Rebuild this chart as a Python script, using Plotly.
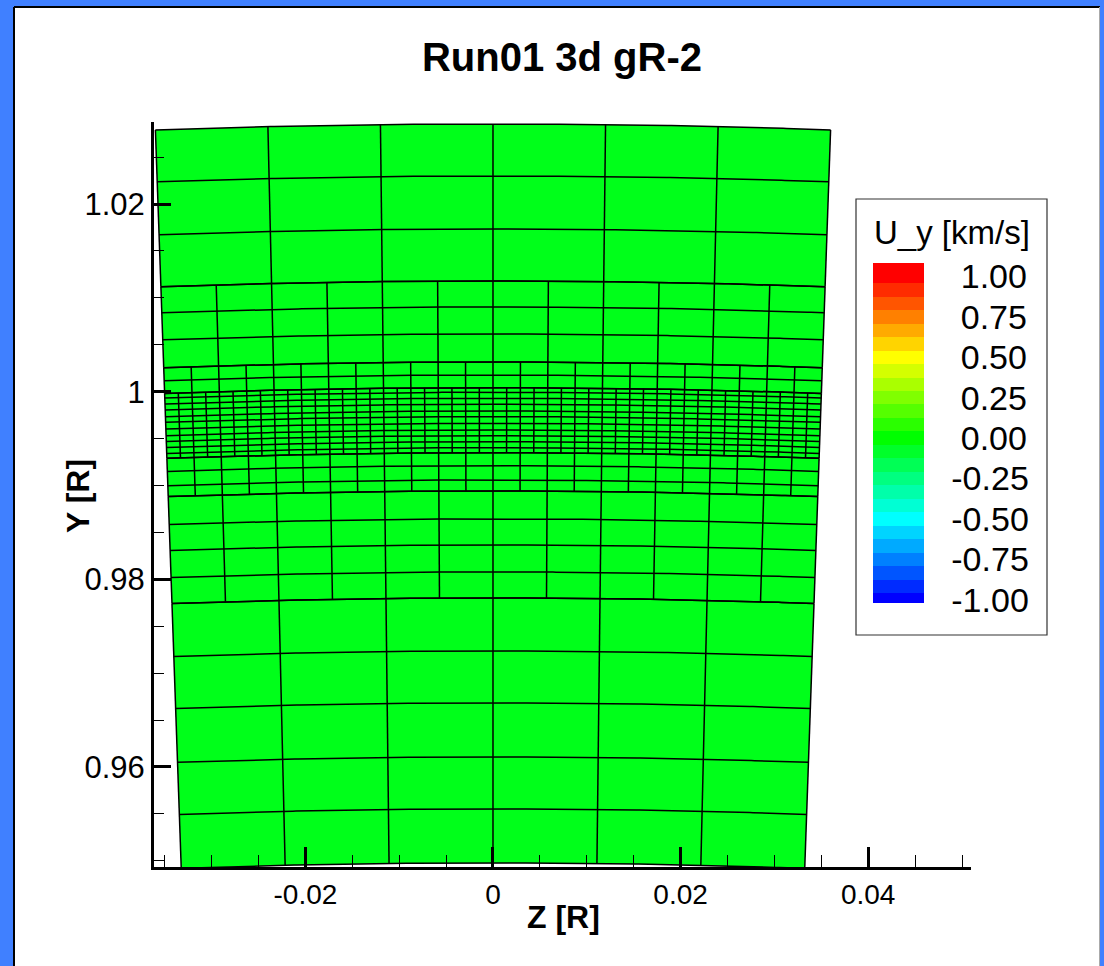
import numpy as np
import plotly.graph_objects as go

# ---------------- text / ticks ----------------
TITLE = "Run01 3d gR-2"
X_TITLE = "Z [R]"
Y_TITLE = "Y [R]"
CB_TITLE = "U_y [km/s]"

x_tickvals = [-0.02, 0.0, 0.02, 0.04]
x_ticktext = ["-0.02", "0", "0.02", "0.04"]
y_tickvals = [0.96, 0.98, 1.0, 1.02]
y_ticktext = ["0.96", "0.98", "1", "1.02"]
x_range = [-0.03614, 0.05096]
y_range = [0.94934, 1.02874]

cb_tickvals = [1.0, 0.75, 0.5, 0.25, 0.0, -0.25, -0.5, -0.75, -1.0]
cb_min, cb_max = -1.02, 13 / 12

# ---------------- mesh (spherical wedge, AMR grid) ----------------
theta_half = 0.035          # half opening angle (rad)
base_cols = 6               # angular cells at coarsest level
# radial grid lines per refinement zone, outer -> inner
zone_L0_outer = [1.02853, 1.02299, 1.01734, 1.01180]
zone_L1_outer = [1.01180, 1.00903, 1.00615, 1.00317]
zone_L2_outer = [1.00317, 1.00178, 1.00043]
zone_L3 = [1.00043, 0.99994, 0.99930, 0.99866, 0.99794, 0.99734,
           0.99663, 0.99592, 0.99531, 0.99467, 0.99403, 0.99350]
zone_L2_inner = [0.99350, 0.99211, 0.99059, 0.98942]
zone_L1_inner = [0.98942, 0.98644, 0.98367, 0.98079, 0.97802]
zone_L0_inner = [0.97802, 0.97237, 0.96683, 0.96108, 0.95553, 0.94978]
zone_levels = [0, 1, 2, 3, 2, 1, 0]
zones = [zone_L0_outer, zone_L1_outer, zone_L2_outer, zone_L3,
         zone_L2_inner, zone_L1_inner, zone_L0_inner]
cell_Uy = [0.0]             # U_y is zero everywhere in this frame

GREEN = "#00ff1a"
FONT = "Liberation Sans, Arial, Helvetica, sans-serif"


def rainbow(v):
    v = max(-1.0, min(1.0, v))
    if v >= 0.5:
        r, g, b = 255, 255 * (1 - (v - 0.5) / 0.5), 0
    elif v >= 0:
        r, g, b = 255 * v / 0.5, 255, 0
    elif v >= -0.5:
        r, g, b = 0, 255, 255 * (-v) / 0.5
    else:
        r, g, b = 0, 255 * (1 - (-v - 0.5) / 0.5), 255
    return "rgb(%d,%d,%d)" % (round(r), round(g), round(b))


# banded colour scale (Tecplot-like), bands centred on multiples of 1/12
band_edges = [cb_min] + [(k + 0.5) / 12 for k in range(-12, 13)] + [cb_max]
band_centers = [k / 12 for k in range(-12, 14)]
span = cb_max - cb_min
colorscale = []
for i, kc in enumerate(band_centers):
    c = rainbow(kc)
    lo = round((band_edges[i] - cb_min) / span, 6)
    hi = round((band_edges[i + 1] - cb_min) / span, 6)
    colorscale.append([lo, c])
    colorscale.append([hi, c])
colorscale[0][0] = 0.0
colorscale[-1][0] = 1.0

# build mesh line coordinates
th_fine = np.linspace(-theta_half, theta_half, 200)
mz, my = [], []
for lvl, zr in zip(zone_levels, zones):
    for r in zr:
        mz += list(r * np.sin(th_fine)) + [None]
        my += list(r * np.cos(th_fine)) + [None]
    ncols = base_cols * 2 ** lvl
    for th in np.linspace(-theta_half, theta_half, ncols + 1):
        r_out, r_in = zr[0], zr[-1]
        mz += [r_out * np.sin(th), r_in * np.sin(th), None]
        my += [r_out * np.cos(th), r_in * np.cos(th), None]

r_max, r_min = zone_L0_outer[0], zone_L0_inner[-1]
wz = list(r_max * np.sin(th_fine)) + list(r_min * np.sin(th_fine[::-1]))
wy = list(r_max * np.cos(th_fine)) + list(r_min * np.cos(th_fine[::-1]))

fig = go.Figure()
fig.add_trace(go.Scatter(x=wz, y=wy, mode="lines", fill="toself", fillcolor=GREEN,
                         line=dict(width=0, color=GREEN), hoverinfo="skip", showlegend=False))
fig.add_trace(go.Scatter(x=mz, y=my, mode="lines", line=dict(color="black", width=1.5),
                         hoverinfo="skip", showlegend=False))

cb_text = [("\u2008" if v >= 0 else "") + ("%.2f" % v) for v in cb_tickvals]

# plot-area pixel geometry
L, R, T, B = 154, 971, 122, 867
W, H = 1104, 966


def px(x):
    return (x - L) / (R - L)


def py(y):
    return (B - y) / (B - T)


fig.add_trace(go.Scatter(
    x=[0.0], y=[1.0], mode="markers", hoverinfo="skip", showlegend=False,
    marker=dict(size=1, color=cell_Uy, colorscale=colorscale, cmin=cb_min, cmax=cb_max,
                opacity=0, showscale=True,
                colorbar=dict(
                    x=px(873), xanchor="left", xpad=0,
                    y=py(263), yanchor="top", ypad=0,
                    thickness=51, thicknessmode="pixels",
                    len=340, lenmode="pixels",
                    outlinewidth=0, borderwidth=0,
                    tickmode="array", tickvals=cb_tickvals, ticktext=cb_text,
                    ticks="outside", ticklen=21, tickcolor="rgba(0,0,0,0)",
                    tickfont=dict(family=FONT, size=34, color="black"),
                    title=dict(text=""),
                ))))

axis_common = dict(
    showline=True, linewidth=3, linecolor="black", mirror=False,
    ticks="inside", tickwidth=3, tickcolor="black",
    showgrid=False, zeroline=False, tickmode="array",
)

fig.update_layout(
    width=W, height=H, autosize=False,
    margin=dict(l=L, r=W - R, t=T, b=H - B, pad=0),
    paper_bgcolor="#4080ff", plot_bgcolor="white",
    title=dict(text=TITLE, x=562 / W, xanchor="center", y=1 - 57 / H, yanchor="middle",
               font=dict(family=FONT, size=40, color="black", weight="bold")),
    xaxis=dict(range=x_range, tickvals=x_tickvals, ticktext=x_ticktext, ticklen=20,
               tickfont=dict(family=FONT, size=28, color="black"),
               minor=dict(ticks="inside", ticklen=12, tickwidth=1, tickcolor="black",
                          tickmode="linear", tick0=0, dtick=0.005, showgrid=False),
               **axis_common),
    yaxis=dict(range=y_range, tickvals=y_tickvals, ticktext=y_ticktext, ticklen=17,
               tickfont=dict(family=FONT, size=31, color="black"),
               minor=dict(ticks="inside", ticklen=10, tickwidth=1, tickcolor="black",
                          tickmode="linear", tick0=0, dtick=0.005, showgrid=False),
               **axis_common),
    shapes=[
        dict(type="rect", xref="paper", yref="paper", layer="below",
             x0=px(14), x1=px(1100), y0=py(975), y1=py(7),
             fillcolor="white", line=dict(width=0)),
        dict(type="line", xref="paper", yref="paper", layer="below",
             x0=px(14), x1=px(1100), y0=py(7), y1=py(7), line=dict(color="black", width=2)),
        dict(type="line", xref="paper", yref="paper", layer="below",
             x0=px(14), x1=px(14), y0=py(7), y1=py(975), line=dict(color="black", width=2)),
        dict(type="line", xref="paper", yref="paper", layer="below",
             x0=px(1099.5), x1=px(1099.5), y0=py(7), y1=py(975), line=dict(color="#aaaaaa", width=1)),
        dict(type="rect", xref="paper", yref="paper", layer="below",
             x0=px(856), x1=px(1047), y0=py(635), y1=py(199),
             fillcolor="white", line=dict(color="#333333", width=1.2)),
    ],
    annotations=[
        dict(text=CB_TITLE, xref="paper", yref="paper", x=px(952), y=py(232),
             xanchor="center", yanchor="middle", showarrow=False,
             font=dict(family=FONT, size=33, color="black")),
        dict(text=X_TITLE, xref="paper", yref="paper", x=px(563), y=py(917),
             xanchor="center", yanchor="middle", showarrow=False,
             font=dict(family=FONT, size=32, color="black", weight="bold")),
        dict(text=Y_TITLE, xref="paper", yref="paper", x=px(78), y=py(496),
             xanchor="center", yanchor="middle", showarrow=False, textangle=-90,
             font=dict(family=FONT, size=32, color="black", weight="bold")),
    ],
)

fig.write_html("out.html")
